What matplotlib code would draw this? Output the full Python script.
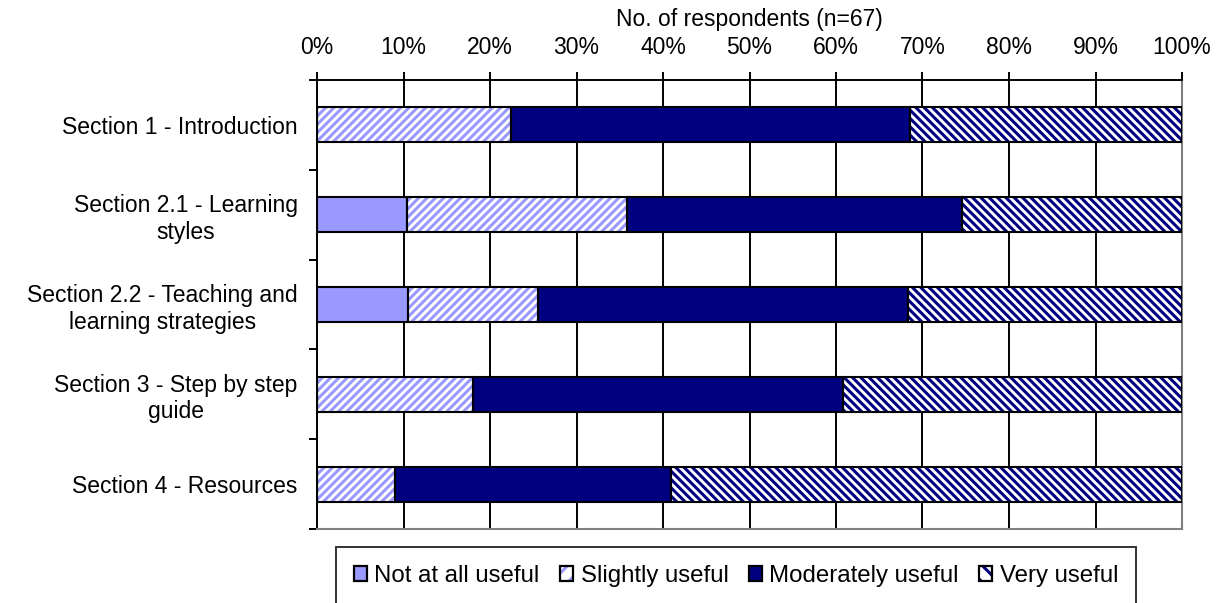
import numpy as np
from matplotlib import pyplot as plt
from matplotlib.patches import Patch
from matplotlib.legend_handler import HandlerTuple
from matplotlib.ticker import FixedLocator, PercentFormatter

plt.rcParams['font.family'] = ['Liberation Sans', 'DejaVu Sans']
plt.rcParams['hatch.linewidth'] = 2.2

sections = [
    'Section 1 - Introduction',
    'Section 2.1 - Learning\nstyles',
    'Section 2.2 - Teaching and\nlearning strategies',
    'Section 3 - Step by step\nguide',
    'Section 4 - Resources',
]
not_useful = [0.0, 10.4, 10.5, 0.0, 0.0]
slightly_useful = [22.4, 25.4, 15.1, 18.0, 9.0]
moderately_useful = [46.1, 38.8, 42.7, 42.8, 31.9]
very_useful = [31.5, 25.4, 31.7, 39.2, 59.1]
x_ticks = [0, 10, 20, 30, 40, 50, 60, 70, 80, 90, 100]

# (label, values, face, hatch colour, hatch)
series = [
    ('Not at all useful', not_useful, '#9999FF', None, None),
    ('Slightly useful', slightly_useful, 'white', '#9999FF', '////'),
    ('Moderately useful', moderately_useful, '#000080', None, None),
    ('Very useful', very_useful, 'white', '#000080', '\\\\\\\\'),
]

fig = plt.figure(figsize=(12.23, 6.03), dpi=100)
ax = fig.add_axes([317 / 1223, 1 - 529 / 603, 865 / 1223, 449 / 603])

y = np.arange(len(sections))
left = np.zeros(len(sections))
bar_h = 0.39
for label, vals, face, hcol, hatch in series:
    vals = np.array(vals)
    if hatch:
        ax.barh(y, vals, left=left, height=bar_h, color=face, edgecolor=hcol,
                hatch=hatch, linewidth=0, zorder=3)
    else:
        ax.barh(y, vals, left=left, height=bar_h, color=face, linewidth=0, zorder=3)
    ax.barh(y, vals, left=left, height=bar_h, fill=False, edgecolor='black',
            linewidth=1.5, zorder=4)
    left += vals

ax.set_xlim(0, 100)
ax.set_ylim(len(sections) - 0.5, -0.5)

ax.xaxis.tick_top()
ax.xaxis.set_label_position('top')
ax.xaxis.set_major_locator(FixedLocator(x_ticks))
ax.xaxis.set_major_formatter(PercentFormatter(decimals=0))
ax.tick_params(axis='x', direction='out', length=6, width=1.4, pad=9, labelsize=16.5)
ax.set_xlabel('No. of respondents (n=67)', fontsize=16.5, labelpad=7)

ax.set_yticks(y)
ax.set_yticklabels(sections, multialignment='center')
ax.set_yticks(np.arange(-0.5, len(sections)), minor=True)
ax.tick_params(axis='y', which='major', length=0, pad=14, labelsize=16.5)
ax.tick_params(axis='y', which='minor', direction='out', length=6, width=1.4)

ax.grid(axis='x', color='black', linewidth=1.4, zorder=1)
ax.set_axisbelow(True)

for side in ('top', 'left'):
    ax.spines[side].set_color('black')
    ax.spines[side].set_linewidth(1.4)
for side in ('bottom', 'right'):
    ax.spines[side].set_color('#808080')
    ax.spines[side].set_linewidth(1.5)

# legend keys: fill/hatch patch with a black outline patch on top
handles = []
for label, vals, face, hcol, hatch in series:
    if hatch:
        fill = Patch(facecolor=face, edgecolor=hcol, hatch=hatch[:2], linewidth=0)
    else:
        fill = Patch(facecolor=face, linewidth=0)
    outline = Patch(fill=False, edgecolor='black', linewidth=1.6)
    handles.append((fill, outline))
labels = [s[0] for s in series]

leg = fig.legend(handles, labels, loc='upper left', ncol=4,
                 handler_map={tuple: HandlerTuple(ndivide=1, pad=0)},
                 bbox_to_anchor=(336 / 1223, 1 - 547 / 603),
                 fontsize=17.3, frameon=True, fancybox=False,
                 handlelength=0.55, handleheight=0.55, handletextpad=0.3,
                 columnspacing=0.85, borderpad=0.75, borderaxespad=0)
leg.get_frame().set_edgecolor('black')
leg.get_frame().set_linewidth(1.4)

fig.savefig('out.png', dpi=100)
